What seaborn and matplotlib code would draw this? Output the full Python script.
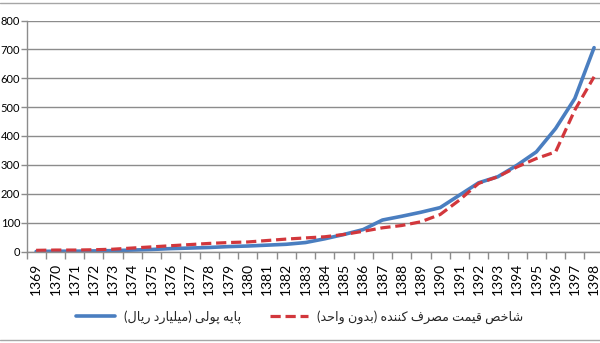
import numpy as np
import pandas as pd
import matplotlib
matplotlib.use("Agg")
import matplotlib.pyplot as plt
from matplotlib.lines import Line2D
import seaborn as sns

years = [str(y) for y in range(1369, 1399)]
monetary_base = [0, 1, 1, 2, 3, 5, 7, 10, 12, 14, 17, 19, 22, 25, 31, 44, 59, 76,
                 109, 122, 136, 152, 195, 238, 259, 299, 345, 426, 530, 706]
cpi = [4, 5, 5, 6, 8, 12, 16, 20, 24, 28, 31, 33, 38, 43, 47, 51, 59, 70,
       82, 90, 103, 128, 178, 236, 259, 293, 322, 345, 490, 605]
y_ticks = [0, 100, 200, 300, 400, 500, 600, 700, 800]
label_base = "پایه پولی (میلیارد ریال)"
label_cpi = "شاخص قیمت مصرف کننده (بدون واحد)"

# --- minimal Arabic/Persian shaping (matplotlib has no complex text layout) ---
FORMS = {
    'ا': ('\uFE8D', '\uFE8E', None, None),
    'ب': ('\uFE8F', '\uFE90', '\uFE91', '\uFE92'),
    'پ': ('\uFB56', '\uFB57', '\uFB58', '\uFB59'),
    'ت': ('\uFE95', '\uFE96', '\uFE97', '\uFE98'),
    'ح': ('\uFEA1', '\uFEA2', '\uFEA3', '\uFEA4'),
    'خ': ('\uFEA5', '\uFEA6', '\uFEA7', '\uFEA8'),
    'د': ('\uFEA9', '\uFEAA', None, None),
    'ر': ('\uFEAD', '\uFEAE', None, None),
    'ش': ('\uFEB5', '\uFEB6', '\uFEB7', '\uFEB8'),
    'ص': ('\uFEB9', '\uFEBA', '\uFEBB', '\uFEBC'),
    'ف': ('\uFED1', '\uFED2', '\uFED3', '\uFED4'),
    'ق': ('\uFED5', '\uFED6', '\uFED7', '\uFED8'),
    'ک': ('\uFB8E', '\uFB8F', '\uFB90', '\uFB91'),
    'ل': ('\uFEDD', '\uFEDE', '\uFEDF', '\uFEE0'),
    'م': ('\uFEE1', '\uFEE2', '\uFEE3', '\uFEE4'),
    'ن': ('\uFEE5', '\uFEE6', '\uFEE7', '\uFEE8'),
    'ه': ('\uFEE9', '\uFEEA', '\uFEEB', '\uFEEC'),
    'و': ('\uFEED', '\uFEEE', None, None),
    'ی': ('\uFBFC', '\uFBFD', '\uFBFE', '\uFBFF'),
}


def shape(text):
    out = []
    for i, c in enumerate(text):
        if c not in FORMS:
            out.append(c)
            continue
        prev = text[i - 1] if i > 0 else None
        nxt = text[i + 1] if i + 1 < len(text) else None
        jp = prev in FORMS and FORMS[prev][2] is not None
        jn = nxt in FORMS and FORMS[c][2] is not None
        iso, fin, ini, med = FORMS[c]
        if jp and jn:
            out.append(med)
        elif jp:
            out.append(fin)
        elif jn:
            out.append(ini)
        else:
            out.append(iso)
    vis = ''.join(reversed(out))
    return vis.translate(str.maketrans({'(': ')', ')': '('}))


sns.set_theme(style="white")
plt.rcParams['font.family'] = ['Lato', 'DejaVu Sans']

df = pd.DataFrame({
    'idx': np.arange(len(years)),
    'base': monetary_base,
    'cpi': cpi,
})

fig = plt.figure(figsize=(6.0, 3.43), dpi=100)
ax = fig.add_axes([26.5 / 600, (343 - 251.5) / 343, 577.2 / 600, 231 / 343])

blue = '#4A7EC0'
red = '#D2373C'
sns.lineplot(data=df, x='idx', y='base', ax=ax, color=blue, linewidth=2.6,
             label=shape(label_base), solid_capstyle='round')
sns.lineplot(data=df, x='idx', y='cpi', ax=ax, color=red, linewidth=2.3,
             label=shape(label_cpi), dashes=False)
ax.lines[1].set_dashes((3.2, 1.5))
ax.lines[1].set_dash_capstyle('butt')

ax.set_xlim(-0.5, len(years) - 0.5)
ax.set_ylim(0, 800)
ax.set_yticks(y_ticks)
ax.set_yticklabels([str(v) for v in y_ticks])
ax.yaxis.grid(True, color='#8c8c8c', linewidth=1.0)
ax.set_axisbelow(True)

ax.set_xticks(np.arange(len(years)))
ax.set_xticklabels(years, rotation=90)
ax.set_xticks(np.arange(len(years) + 1) - 0.5, minor=True)
ax.tick_params(axis='x', which='major', length=0, pad=8, labelsize=10, colors='#000000')
ax.tick_params(axis='x', which='minor', length=5, width=1, color='#8c8c8c', bottom=True)
ax.tick_params(axis='y', length=4, width=1, color='#8c8c8c', pad=0.6, labelsize=8,
               left=True, labelcolor='#000000')
ax.set_xlabel('')
ax.set_ylabel('')

for s in ['top', 'right']:
    ax.spines[s].set_visible(False)
for s in ['left', 'bottom']:
    ax.spines[s].set_color('#8c8c8c')
    ax.spines[s].set_linewidth(1.0)

ax.get_legend().remove()
handles = [Line2D([], [], color=blue, linewidth=2.6),
           Line2D([], [], color=red, linewidth=2.3, dashes=(3.2, 1.5))]
fig.legend(handles, [shape(label_base), shape(label_cpi)], loc='center',
           bbox_to_anchor=(300 / 600, (343 - 317) / 343), ncol=2, frameon=False,
           fontsize=9.2, handlelength=3.0, handletextpad=0.7, columnspacing=2.3)

# outer chart frame lines (cropped border)
fig.add_artist(Line2D([0, 1], [1 - 3 / 343, 1 - 3 / 343], transform=fig.transFigure,
                      color='#a6a6a6', linewidth=1.0))
fig.add_artist(Line2D([0, 1], [1 - 340 / 343, 1 - 340 / 343], transform=fig.transFigure,
                      color='#a6a6a6', linewidth=1.0))

fig.savefig('out.png', dpi=100)
